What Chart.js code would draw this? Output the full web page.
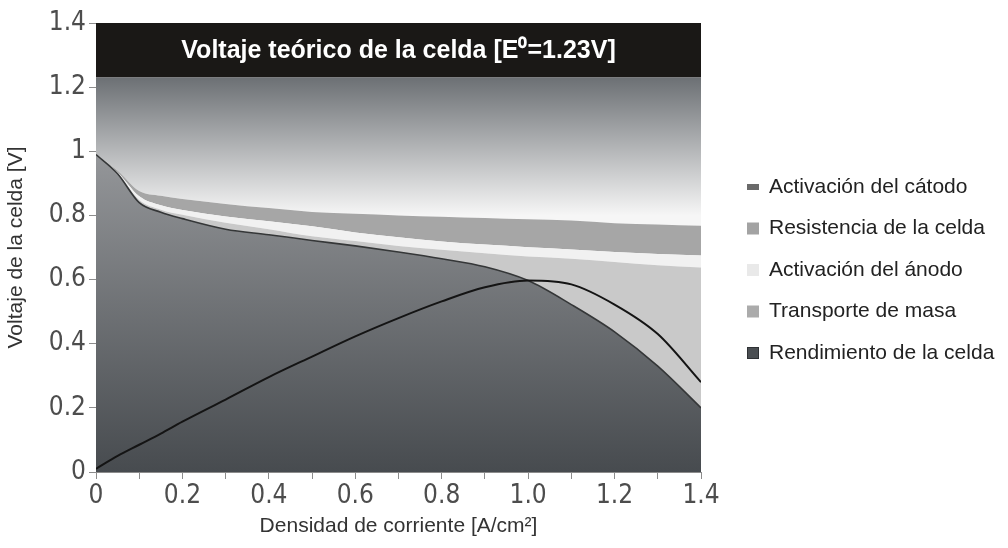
<!DOCTYPE html>
<html lang="es">
<head>
<meta charset="utf-8">
<title>Curva de polarización de la celda</title>
<script src="https://cdn.jsdelivr.net/npm/chart.js@4.4.1/dist/chart.umd.min.js"></script>
<style>
  html, body { margin: 0; padding: 0; background: #fff; }
  #wrap { width: 1008px; height: 548px; position: relative; }
</style>
</head>
<body>
<div id="wrap"><canvas id="grafico"></canvas></div>
<script>
// Densidad de corriente [A/cm2]
const corriente = [0, 0.05, 0.1, 0.15, 0.2, 0.3, 0.4, 0.5, 0.6, 0.7, 0.8, 0.9, 1.0, 1.1, 1.2, 1.3, 1.4];

// Voltaje real de la celda (rendimiento) [V]
const voltajeCelda = [0.99, 0.93, 0.84, 0.81, 0.79, 0.757, 0.74, 0.722, 0.705, 0.686, 0.665, 0.64, 0.597, 0.522, 0.437, 0.33, 0.2];
// Borde superior de las pérdidas por transporte de masa
const bordeTransporte = [0.99, 0.932, 0.848, 0.818, 0.802, 0.777, 0.757, 0.735, 0.72, 0.705, 0.693, 0.682, 0.672, 0.665, 0.655, 0.645, 0.638];
// Borde superior de la activación del ánodo
const bordeAnodo = [0.99, 0.935, 0.86, 0.832, 0.817, 0.797, 0.782, 0.766, 0.747, 0.732, 0.719, 0.709, 0.701, 0.694, 0.686, 0.68, 0.675];
// Borde superior de la resistencia de la celda
const bordeResistencia = [0.99, 0.94, 0.876, 0.861, 0.851, 0.836, 0.823, 0.811, 0.805, 0.8, 0.796, 0.792, 0.788, 0.784, 0.776, 0.772, 0.768];
// Curva de potencia (sin eje propio en la figura)
const potencia = [0.01, 0.05, 0.085, 0.12, 0.157, 0.226, 0.296, 0.36, 0.423, 0.48, 0.532, 0.576, 0.597, 0.585, 0.522, 0.43, 0.28];

const voltajeTeorico = 1.23;
const voltajeMax = 1.4;

const etiquetasX = ['0', '0.2', '0.4', '0.6', '0.8', '1.0', '1.2', '1.4'];
const etiquetasY = ['0', '0.2', '0.4', '0.6', '0.8', '1', '1.2', '1.4'];

const leyenda = ['Activación del cátodo', 'Resistencia de la celda', 'Activación del ánodo', 'Transporte de masa', 'Rendimiento de la celda'];
const coloresLeyenda = ['#6a6a6a', '#a3a3a3', '#e9e9e9', '#ababab', '#4a4e52'];

const fuente = '"Liberation Sans", Arial, sans-serif';
const fuenteEstrecha = '"Liberation Sans Narrow", "DejaVu Sans Condensed", "Liberation Sans", sans-serif';

function puntos(ys) {
    return corriente.map((x, i) => ({ x: x, y: ys[i] }));
}

// degradado vertical entre dos voltajes
function degradado(chart, vTop, vBottom, cTop, cBottom, fallback) {
    const area = chart.chartArea;
    if (!area) return fallback;
    const y = chart.scales.y;
    const g = chart.ctx.createLinearGradient(0, y.getPixelForValue(vTop), 0, y.getPixelForValue(vBottom));
    g.addColorStop(0, cTop);
    g.addColorStop(1, cBottom);
    return g;
}

const bandaTitulo = {
    id: 'bandaTitulo',
    afterDatasetsDraw(chart) {
        const c = chart.ctx;
        const a = chart.chartArea;
        const y = chart.scales.y;
        const yc = (y.getPixelForValue(voltajeMax) + y.getPixelForValue(voltajeTeorico)) / 2;
        c.save();
        c.fillStyle = '#ffffff';
        c.font = 'bold 25px ' + fuente;
        c.textAlign = 'center';
        c.textBaseline = 'middle';
        c.fillText('Voltaje teórico de la celda [E⁰=1.23V]', (a.left + a.right) / 2, yc + 1);
        c.restore();
    }
};

const leyendaLateral = {
    id: 'leyendaLateral',
    afterDraw(chart) {
        const c = chart.ctx;
        const a = chart.chartArea;
        const x0 = a.right + 46;
        c.save();
        c.font = '21px ' + fuente;
        c.textBaseline = 'middle';
        leyenda.forEach((txt, i) => {
            const yc = 187 + i * 41.5;
            c.fillStyle = coloresLeyenda[i];
            if (i === 0) {
                c.fillRect(x0, yc - 3, 12, 6);
            } else {
                c.fillRect(x0, yc - 6, 12, 12);
            }
            if (i === 4) {
                c.strokeStyle = '#2e3134';
                c.lineWidth = 1;
                c.strokeRect(x0 + 0.5, yc - 5.5, 11, 11);
            }
            c.fillStyle = '#222222';
            c.fillText(txt, x0 + 22, yc);
        });
        c.restore();
    }
};

const sinPuntos = { pointRadius: 0, pointHoverRadius: 0 };

new Chart(document.getElementById('grafico'), {
    type: 'line',
    data: {
        datasets: [
            {
                label: 'Potencia',
                data: puntos(potencia),
                borderColor: '#141414',
                borderWidth: 2,
                fill: false,
                cubicInterpolationMode: 'monotone',
                ...sinPuntos
            },
            {
                label: leyenda[4],
                data: puntos(voltajeCelda),
                borderColor: '#353738',
                borderWidth: 1.6,
                fill: 'origin',
                backgroundColor: (ctx) => degradado(ctx.chart, 1.0, 0, '#95979a', '#474b4f', '#6a6e72'),
                cubicInterpolationMode: 'monotone',
                ...sinPuntos
            },
            {
                label: leyenda[3],
                data: puntos(bordeTransporte),
                borderWidth: 0,
                borderColor: 'rgba(0,0,0,0)',
                fill: '-1',
                backgroundColor: '#c9c9c9',
                cubicInterpolationMode: 'monotone',
                ...sinPuntos
            },
            {
                label: leyenda[2],
                data: puntos(bordeAnodo),
                borderWidth: 0,
                borderColor: 'rgba(0,0,0,0)',
                fill: '-1',
                backgroundColor: '#f1f1f1',
                cubicInterpolationMode: 'monotone',
                ...sinPuntos
            },
            {
                label: leyenda[1],
                data: puntos(bordeResistencia),
                borderWidth: 0,
                borderColor: 'rgba(0,0,0,0)',
                fill: '-1',
                backgroundColor: '#a6a6a6',
                cubicInterpolationMode: 'monotone',
                ...sinPuntos
            },
            {
                label: leyenda[0],
                data: puntos(corriente.map(() => voltajeTeorico)),
                borderWidth: 0,
                borderColor: 'rgba(0,0,0,0)',
                fill: '-1',
                backgroundColor: (ctx) => degradado(ctx.chart, voltajeTeorico, 0.8, '#6c7074', '#f6f6f6', '#b0b0b0'),
                ...sinPuntos
            },
            {
                label: 'Voltaje teórico',
                data: puntos(corriente.map(() => voltajeMax)),
                borderWidth: 0,
                borderColor: 'rgba(0,0,0,0)',
                fill: '-1',
                backgroundColor: '#1a1816',
                ...sinPuntos
            }
        ]
    },
    options: {
        responsive: true,
        maintainAspectRatio: false,
        animation: false,
        devicePixelRatio: 1,
        layout: { padding: { left: 0, right: 307, top: 23, bottom: 0 } },
        plugins: {
            legend: { display: false },
            tooltip: { enabled: false }
        },
        scales: {
            x: {
                type: 'linear',
                min: 0,
                max: 1.4,
                afterFit: (s) => { s.height = 76; },
                ticks: {
                    stepSize: 0.1,
                    autoSkip: false,
                    maxRotation: 0,
                    padding: 2,
                    color: '#4d4d4d',
                    font: { family: fuenteEstrecha, size: 26 },
                    callback: (v, i) => (i % 2 === 0 ? etiquetasX[i / 2] : '')
                },
                grid: { drawOnChartArea: false, tickLength: 7, color: '#8c8c8c' },
                border: { display: true, color: '#8c8c8c' },
                title: {
                    display: true,
                    text: 'Densidad de corriente [A/cm²]',
                    color: '#333333',
                    font: { family: fuente, size: 21 },
                    padding: { top: 0, bottom: 9 }
                }
            },
            y: {
                min: 0,
                max: 1.4,
                afterFit: (s) => { s.width = 96; },
                ticks: {
                    stepSize: 0.2,
                    padding: 3,
                    color: '#4d4d4d',
                    font: { family: fuenteEstrecha, size: 26 },
                    callback: (v, i) => etiquetasY[i]
                },
                grid: { drawOnChartArea: false, tickLength: 7, color: '#8c8c8c' },
                border: { display: false },
                title: {
                    display: true,
                    text: 'Voltaje de la celda [V]',
                    color: '#333333',
                    font: { family: fuente, size: 21 },
                    padding: { top: 4, bottom: 0 }
                }
            }
        }
    },
    plugins: [bandaTitulo, leyendaLateral]
});
</script>
</body>
</html>
